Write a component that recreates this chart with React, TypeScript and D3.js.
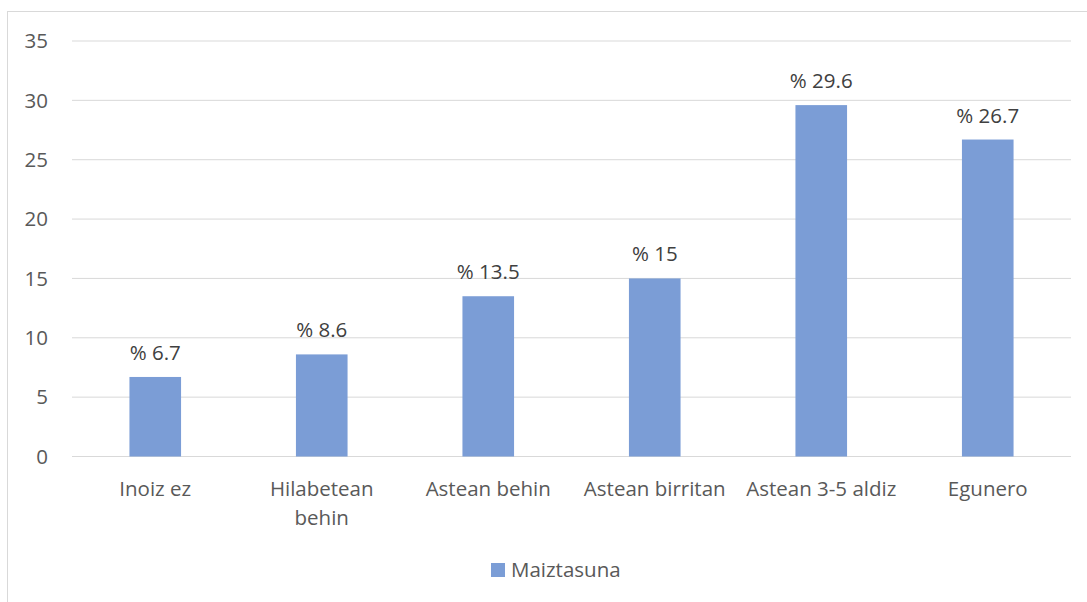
import React from "react";
import * as d3 from "d3";

const categories: string[][] = [
  ["Inoiz ez"],
  ["Hilabetean", "behin"],
  ["Astean behin"],
  ["Astean birritan"],
  ["Astean 3-5 aldiz"],
  ["Egunero"],
];
const values: number[] = [6.7, 8.6, 13.5, 15, 29.6, 26.7];
const yTicks: number[] = [0, 5, 10, 15, 20, 25, 30, 35];
const seriesName = "Maiztasuna";

export default function App() {
  const W = 1087;
  const H = 602;
  const left = 72;
  const right = 1071;
  const top = 41;
  const bottom = 456.5;
  const font = "'Open Sans', 'Noto Sans', sans-serif";
  const textColor = "#595959";
  const barColor = "#7B9DD6";
  const fs = 20.5;

  const x = d3
    .scaleBand<number>()
    .domain(values.map((_, i) => i))
    .range([left, right])
    .paddingInner(0.69)
    .paddingOuter(0.345);
  const y = d3.scaleLinear().domain([0, 35]).range([bottom, top]);

  return (
    <svg
      width={W}
      height={H}
      style={{ position: "absolute", left: 0, top: 0 }}
      fontFamily={font}
    >
      <rect x={0} y={0} width={W} height={H} fill="#fff" />
      <rect x={7.5} y={11.5} width={W + 20} height={H + 20} fill="none" stroke="#d9d9d9" strokeWidth={1} />
      {yTicks.map((t) => (
        <g key={t}>
          <line x1={left} x2={right} y1={y(t)} y2={y(t)} stroke="#d9d9d9" strokeWidth={1} />
          <text x={48} y={y(t)} dy="0.35em" textAnchor="end" fontSize={fs} fill={textColor}>
            {t}
          </text>
        </g>
      ))}
      {values.map((v, i) => (
        <g key={i}>
          <rect
            x={x(i)}
            y={y(v)}
            width={x.bandwidth()}
            height={y(0) - y(v)}
            fill={barColor}
          />
          <text
            x={(x(i) as number) + x.bandwidth() / 2}
            y={y(v) - 17}
            textAnchor="middle"
            fontSize={fs}
            fill="#404040"
          >
            {"% " + v}
          </text>
          {categories[i].map((line, j) => (
            <text
              key={j}
              x={(x(i) as number) + x.bandwidth() / 2}
              y={496 + j * 29}
              textAnchor="middle"
              fontSize={fs}
              fill={textColor}
            >
              {line}
            </text>
          ))}
        </g>
      ))}
      <rect x={491} y={563} width={14} height={14} fill={barColor} />
      <text x={511} y={570} dy="0.35em" fontSize={fs} fill={textColor}>
        {seriesName}
      </text>
    </svg>
  );
}
